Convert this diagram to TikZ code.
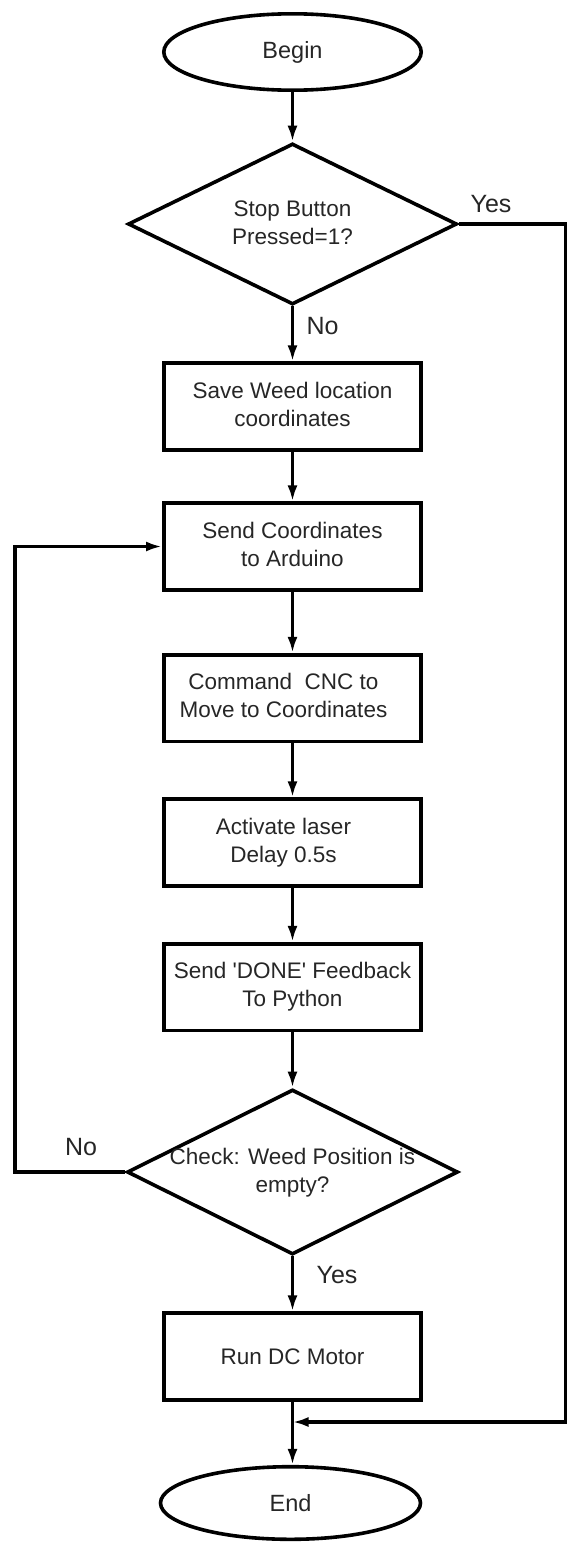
\documentclass[tikz,border=0pt]{standalone}
\usepackage{fontspec}
\setmainfont{Liberation Sans}
\usetikzlibrary{shapes.geometric,arrows.meta}

% two centred lines of text
\newcommand\twolines[2]{\begin{tabular}{@{}c@{}}#1\\#2\end{tabular}}
% text that takes no room, so a diamond keeps its set size
\newcommand\dtext[2]{\smash{\makebox[0pt]{\raisebox{-5.6pt}{\twolines{#1}{#2}}}}}

\begin{document}
\begin{tikzpicture}[x=1pt,y=-1pt,
  every node/.style={text=black!85},
  flow/.style={line width=3.6pt, line join=miter},
  stepbox/.style={draw=black, flow, rectangle, minimum width=257.4pt,
    minimum height=86.6pt, inner sep=0pt, font=\fontsize{22.5}{28}\selectfont},
  terminal/.style={draw=black, flow, ellipse, inner sep=0pt,
    font=\fontsize{23.5}{28}\selectfont},
  decision/.style={draw=black, flow, diamond, inner sep=0pt,
    font=\fontsize{22.5}{28}\selectfont},
  lbl/.style={inner sep=0pt, font=\fontsize{25}{30}\selectfont},
  arr/.style={flow, -{Latex[length=16pt,width=10pt]}}
]
\useasboundingbox (0,0) rectangle (568,1542);

% terminals
\node[terminal, minimum width=257.4pt, minimum height=76.4pt] (begin) at (292.5,52) {Begin};
\node[terminal, minimum width=260pt, minimum height=72.6pt] (end) at (290.5,1503) {End};

% decisions
\node[decision, minimum width=329pt, minimum height=161pt] (d1) at (292.5,224)
  {\dtext{Stop Button}{Pressed=1?}};
\node[decision, minimum width=331pt, minimum height=165pt] (d2) at (292.5,1172)
  {\dtext{Check: Weed Position is}{empty?}};

% process steps
\node[stepbox] (b1) at (292.5,406.5) {\twolines{Save Weed location}{coordinates}};
\node[stepbox] (b2) at (292.5,546.5) {\twolines{Send Coordinates}{to Arduino}};
\node[stepbox] (b3) at (292.5,698) {\hspace*{-18pt}\twolines{Command~\ CNC to}{Move to Coordinates}};
\node[stepbox] (b4) at (292.5,842.5) {\hspace*{-18pt}\twolines{Activate laser}{Delay 0.5s}};
\node[stepbox] (b5) at (292.5,987) {\twolines{Send \textquotesingle DONE\textquotesingle{} Feedback}{To Python}};
\node[stepbox] (b6) at (292.5,1356.5) {Run DC Motor};

% branch labels
\node[lbl] (yes1) at (491,204) {Yes};
\node[lbl] (no1) at (322.5,326) {No};
\node[lbl] (no2) at (81,1147) {No};
\node[lbl] (yes2) at (337,1275) {Yes};

% routing points
\coordinate (rightx) at (565.5,0);
\coordinate (leftx) at (15,0);
\coordinate (jn) at (292.5,1422);

% main flow
\draw[arr] (begin.south) -- (d1.north);
\draw[arr] (d1.south) -- (b1.north);
\draw[arr] (b1.south) -- (b2.north);
\draw[arr] (b2.south) -- (b3.north);
\draw[arr] (b3.south) -- (b4.north);
\draw[arr] (b4.south) -- (b5.north);
\draw[arr] (b5.south) -- (d2.north);
\draw[arr] (d2.south) -- (b6.north);
\draw[arr] (b6.south) -- (b6.south |- end.north);

% stop branch straight to the end
\draw[arr] (d1.east) -- (d1.east -| rightx) -- (jn -| rightx) -- (jn);

% repeat while weed positions remain
\draw[arr] (d2.west) -- (d2.west -| leftx) -- (b2.west -| leftx) -- (b2.west);
\end{tikzpicture}
\end{document}
